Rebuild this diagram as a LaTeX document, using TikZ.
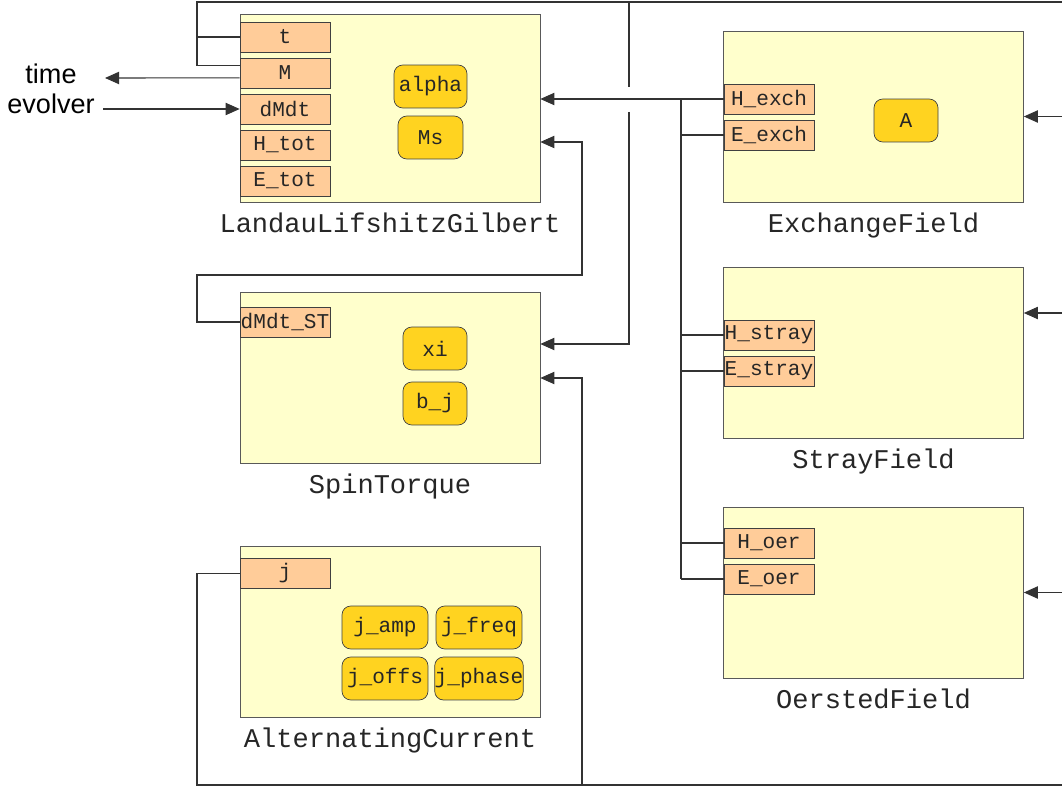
\documentclass[tikz,border=0pt]{standalone}
\usepackage{fontspec}
\setmainfont{Liberation Sans}
\setmonofont{Liberation Mono}
\usepackage{tikz}
\usetikzlibrary{positioning, arrows.meta}

\definecolor{blockfill}{HTML}{FFFFCC}
\definecolor{portfill}{HTML}{FFCC99}
\definecolor{parfill}{HTML}{FFD320}

\tikzset{
  block/.style={draw=black!65, fill=blockfill, minimum width=6cm, minimum height=3.42cm, inner sep=0pt},
  port/.style={draw=black!75, fill=portfill, minimum width=1.8cm, minimum height=0.6cm, inner sep=0pt,
    text=black!85, font=\ttfamily\fontsize{12}{14}\selectfont},
  param/.style={draw=black!75, fill=parfill, rounded corners=5pt, minimum width=1.28cm, minimum height=0.86cm,
    inner sep=0pt, text=black!85, font=\ttfamily\fontsize{12}{14}\selectfont},
  blocklabel/.style={anchor=base, text=black!85, font=\ttfamily\fontsize{15.4}{17}\selectfont},
  wire/.style={draw=black!80, line width=0.6pt},
  feed/.style={wire, -{Triangle[length=8pt,width=7pt]}},
}

\begin{document}
\begin{tikzpicture}[x=0.02cm, y=-0.02cm]
\useasboundingbox (0,0) rectangle (1062,787);

% LLG block
\node[block, minimum height=3.76cm] (llg) at (390,108) {};
\node[blocklabel] (llglbl) at ([yshift=-0.6cm]llg.south) {LandauLifshitzGilbert};
\node[port] (t) at (285,37) {t};
\node[port] (M) at (285,73) {M};
\node[port] (dMdt) at (285,109) {dMdt};
\node[port] (htot) at (285,145) {H\_tot};
\node[port] (etot) at (285,181) {E\_tot};
\node[param, minimum width=1.46cm] (alpha) at (430.5,86.5) {alpha};
\node[param, minimum width=1.3cm] (Ms) at (430.5,137.5) {Ms};

% spin torque
\node[block] (st) at (390,378) {};
\node[blocklabel] (stlbl) at ([yshift=-0.6cm]st.south) {SpinTorque};
\node[port] (dmdtst) at (285,322) {dMdt\_ST};
\node[param] (xi) at (435,348.5) {xi};
\node[param] (bj) at (435,403.5) {b\_j};

% current source
\node[block] (ac) at (390,631.5) {};
\node[blocklabel] (aclbl) at ([yshift=-0.6cm]ac.south) {AlternatingCurrent};
\node[port] (j) at (285,573.5) {j};
\node[param, minimum width=1.72cm] (jamp) at (385,627.5) {j\_amp};
\node[param, minimum width=1.72cm] (jfreq) at (479,627.5) {j\_freq};
\node[param, minimum width=1.72cm] (joffs) at (385,678.5) {j\_offs};
\node[param, minimum width=1.72cm] (jphase) at (479,678.5) {j\_phase};

% field terms
\node[block] (exch) at (873.5,116.5) {};
\node[blocklabel] (exchlbl) at ([yshift=-0.6cm]exch.south) {ExchangeField};
\node[port] (hexch) at (769,99) {H\_exch};
\node[port] (eexch) at (769,135) {E\_exch};
\node[param] (A) at (906,120.5) {A};

\node[block] (stray) at (873.5,352.5) {};
\node[blocklabel] (straylbl) at ([yshift=-0.6cm]stray.south) {StrayField};
\node[port] (hstray) at (769,335) {H\_stray};
\node[port] (estray) at (769,371) {E\_stray};

\node[block] (oer) at (873.5,592.5) {};
\node[blocklabel] (oerlbl) at ([yshift=-0.6cm]oer.south) {OerstedField};
\node[port] (hoer) at (769,543) {H\_oer};
\node[port] (eoer) at (769,579) {E\_oer};

\node[align=center, font=\fontsize{15.4}{17}\selectfont] (tevo) at (51,89) {time\\evolver};

% helper points for the wiring
\coordinate (topl) at (197,2);
\coordinate (topr) at (1062,2);
\coordinate (botl) at (197,785);
\coordinate (botr) at (1062,785);
\coordinate (evout) at (105,78);
\coordinate (evin) at (103,109);
\coordinate (hopa) at (629,87);
\coordinate (hopb) at (629,112);
\coordinate (mbend) at (629,344);
\coordinate (bus) at (681,99);
\coordinate (loopl) at (197,275);
\coordinate (loopr) at (582,275);
\coordinate (jup) at (582,785);
\coordinate (strayin) at ([yshift=0.79cm]stray.east);

% t and M along the top
\draw[wire] (t.west) -| (topl) -- (topr);
\draw[wire] ([yshift=4.5pt]M.west) -| (topl);
\draw[feed] ([yshift=-2.8pt]M.west) -- (evout);
\draw[feed] (evin) -- (dMdt.west);

% M down into the spin torque, hopping over the field line
\draw[wire] (hopa |- topl) -- (hopa);
\draw[feed] (hopb) -- (mbend) -- (mbend -| st.east);

% field bus
\draw[feed] (hexch.west) -- (hexch.west -| llg.east);
\draw[wire] (bus) -- (eoer.west -| bus);
\foreach \p in {eexch, hstray, estray, hoer, eoer}
  \draw[wire] (\p.west) -- (\p.west -| bus);

% spin torque term back into LLG
\draw[feed] (dmdtst.west) -| (loopl) -- (loopr) |- ([yshift=-0.68cm]llg.east);

% current along the bottom
\draw[wire] (j.west) -| (botl) -- (botr);
\draw[feed] (jup) |- (st.east);

% inputs from the right
\draw[feed] (exch.east -| topr) -- (exch.east);
\draw[feed] (strayin -| topr) -- (strayin);
\draw[feed] (oer.east -| topr) -- (oer.east);

\end{tikzpicture}
\end{document}
